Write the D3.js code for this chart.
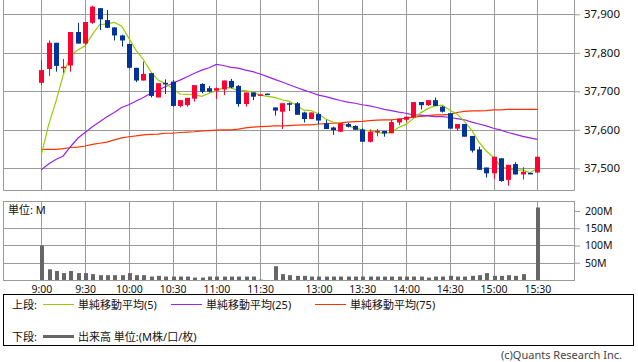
<!DOCTYPE html>
<html>
<head>
<meta charset="utf-8">
<script src="https://cdn.jsdelivr.net/npm/d3@7"></script>
<style>
body { margin: 0; background: #fff; }
text { font-family: "Noto Sans", "Noto Sans CJK JP", sans-serif; fill: #111; }
</style>
</head>
<body>
<svg id="chart" width="638" height="362"></svg>
<script>
// 5-minute slots, slot 12:25 is the lunch-break marker
var times = ["9:00","9:05","9:10","9:15","9:20","9:25","9:30","9:35","9:40","9:45","9:50","9:55",
    "10:00","10:05","10:10","10:15","10:20","10:25","10:30","10:35","10:40","10:45","10:50","10:55",
    "11:00","11:05","11:10","11:15","11:20","11:25","11:30","12:25",
    "12:30","12:35","12:40","12:45","12:50","12:55","13:00","13:05","13:10","13:15","13:20","13:25",
    "13:30","13:35","13:40","13:45","13:50","13:55","14:00","14:05","14:10","14:15","14:20","14:25",
    "14:30","14:35","14:40","14:45","14:50","14:55","15:00","15:05","15:10","15:15","15:20","15:25","15:30"];

var tickTimes = ["9:00","9:30","10:00","10:30","11:00","11:30","13:00","13:30","14:00","14:30","15:00","15:30"];
var priceTicks = [37500, 37600, 37700, 37800, 37900];
var volumeTicks = [50, 100, 150, 200];

var opens = [37722,37758,37826,37763,37767,37854,37824,37878,37916,37885,37866,37845,37823,37761,37728,37747,37684,37722,37725,37662,37664,37681,37719,37708,37702,37705,37727,37714,37667,37697,37691,37694,
    37658,37647,37669,37669,37645,37628,37641,37617,37606,37595,37615,37610,37601,37569,37594,37597,37591,37619,37626,37632,37672,37664,37677,37660,37643,37603,37615,37584,37549,37502,37487,37526,37470,37511,37484,37488,37489];
var highs = [37781,37832,37826,37784,37854,37878,37880,37922,37916,37911,37866,37847,37823,37761,37777,37747,37721,37731,37729,37677,37683,37716,37721,37714,37710,37728,37732,37716,37697,37697,37692,37694,
    37658,37669,37671,37672,37647,37645,37645,37626,37608,37617,37618,37612,37604,37601,37602,37597,37626,37629,37634,37672,37672,37677,37684,37662,37643,37615,37615,37584,37556,37502,37530,37526,37509,37516,37503,37489,37530];
var lows = [37716,37740,37751,37748,37751,37824,37820,37875,37859,37864,37832,37816,37759,37724,37728,37684,37684,37693,37660,37658,37660,37673,37695,37697,37680,37690,37708,37660,37660,37677,37691,37693,
    37637,37602,37649,37639,37619,37628,37615,37602,37587,37595,37606,37600,37569,37567,37583,37582,37591,37612,37620,37630,37653,37662,37662,37645,37603,37597,37582,37541,37496,37476,37472,37465,37455,37484,37471,37486,37489];
var closes = [37755,37826,37766,37764,37854,37824,37880,37920,37887,37865,37845,37832,37761,37728,37745,37688,37721,37719,37662,37677,37683,37716,37699,37699,37708,37728,37710,37667,37697,37686,37692,37693,
    37650,37669,37667,37639,37628,37645,37624,37602,37599,37617,37608,37600,37569,37595,37597,37591,37620,37629,37634,37672,37664,37677,37662,37647,37603,37615,37582,37546,37496,37487,37530,37467,37509,37484,37491,37487,37530];
// volume in millions
var volumes = [100,31,26,20,26,20,20,17,14,14,14,14,20,14,14,10,12,10,10,10,10,7,7,10,10,10,10,10,10,10,1,0,
    40,17,14,12,12,10,10,10,10,10,10,10,10,10,10,10,10,10,10,10,10,7,10,10,12,10,10,12,14,20,12,12,14,12,17,0,210];

var ma5 = [37535,37613,37673,37742,37793,37807,37818,37848,37873,37875,37879,37870,37838,37806,37782,37751,37729,37720,37707,37693,37692,37691,37687,37695,37701,37710,37709,37702,37702,37698,37690,37687,
    37684,37678,37674,37664,37651,37650,37641,37628,37620,37617,37610,37605,37599,37598,37594,37590,37594,37606,37614,37629,37644,37655,37662,37664,37651,37641,37622,37599,37568,37545,37528,37505,37498,37495,37496,37488,37500];
var ma25 = [37496,37511,37523,37532,37556,37578,37593,37608,37621,37634,37645,37658,37665,37675,37684,37695,37703,37712,37721,37729,37738,37747,37755,37761,37770,37767,37762,37760,37755,37751,37745,37738,
    37731,37724,37717,37710,37703,37697,37690,37686,37681,37676,37672,37669,37665,37662,37658,37653,37650,37646,37643,37639,37638,37636,37634,37634,37632,37629,37626,37620,37615,37610,37604,37599,37593,37588,37583,37579,37575];
var ma75 = [37549,37549,37549,37551,37554,37555,37558,37562,37565,37568,37574,37579,37582,37584,37587,37588,37589,37591,37591,37593,37594,37595,37597,37598,37599,37600,37600,37602,37605,37607,37608,37609,
    37610,37610,37611,37612,37613,37613,37615,37616,37617,37618,37620,37621,37622,37624,37625,37626,37626,37628,37630,37633,37635,37637,37639,37639,37640,37645,37648,37649,37649,37650,37652,37652,37653,37653,37653,37653,37653];

var svg = d3.select("#chart");
var left = 3, right = 574, mainBottom = 190, volTop = 201, volBottom = 280;
var gridColor = "#9a9a9a";

var x = d3.scalePoint().domain(times).range([41.3, 537.3]);
var y = d3.scaleLinear().domain([37500, 37900]).range([168.3, 14.3]);
var yv = d3.scaleLinear().domain([0, 150]).range([280, 228.2]);

function px(v) { return Math.round(v) + 0.5; }

// grids
var grid = svg.append("g").attr("stroke", gridColor).attr("stroke-width", 1);
grid.selectAll(".vg").data(tickTimes).enter().append("line")
    .attr("x1", function (d) { return px(x(d)); }).attr("x2", function (d) { return px(x(d)); })
    .attr("y1", 0).attr("y2", mainBottom);
grid.selectAll(".vg2").data(tickTimes).enter().append("line")
    .attr("x1", function (d) { return px(x(d)); }).attr("x2", function (d) { return px(x(d)); })
    .attr("y1", volTop).attr("y2", volBottom);
grid.selectAll(".hg").data(priceTicks).enter().append("line")
    .attr("x1", left).attr("x2", right).attr("y1", function (d) { return px(y(d)); }).attr("y2", function (d) { return px(y(d)); });
grid.selectAll(".hv").data([50, 100, 150]).enter().append("line")
    .attr("x1", left).attr("x2", right).attr("y1", function (d) { return px(yv(d)); }).attr("y2", function (d) { return px(yv(d)); });

// frames
svg.append("path").attr("fill", "none").attr("stroke", gridColor)
    .attr("d", "M" + (left + 0.5) + ",0V" + (mainBottom + 0.5) + "H" + (right + 0.5) + "V0");
svg.append("rect").attr("fill", "none").attr("stroke", gridColor)
    .attr("x", left + 0.5).attr("y", volTop + 0.5).attr("width", right - left).attr("height", volBottom - volTop);

// price axis
var pAxis = svg.append("g").attr("transform", "translate(" + right + ",0)")
    .call(d3.axisRight(y).tickValues(priceTicks).tickSize(6).tickPadding(4).tickFormat(d3.format(",")));
pAxis.select(".domain").remove();
pAxis.selectAll("line").attr("stroke", gridColor);
pAxis.selectAll("text").attr("font-size", "11.5px").attr("fill", "#111");

// volume axis
var vAxis = svg.append("g").attr("transform", "translate(" + right + ",0)")
    .call(d3.axisRight(yv).tickValues(volumeTicks).tickSize(6).tickPadding(5).tickFormat(function (d) { return d + "M"; }));
vAxis.select(".domain").remove();
vAxis.selectAll("line").attr("stroke", gridColor);
vAxis.selectAll("text").attr("font-size", "10.5px").attr("fill", "#111");

// time axis
var tAxis = svg.append("g").attr("transform", "translate(0," + volBottom + ")")
    .call(d3.axisBottom(x).tickValues(tickTimes).tickSize(0).tickPadding(6));
tAxis.select(".domain").remove();
tAxis.selectAll("text").attr("font-size", "10.5px").attr("fill", "#111");

// volume bars
svg.append("g").selectAll("rect").data(times).enter().append("rect")
    .attr("x", function (d) { return Math.round(x(d)) - 1; })
    .attr("width", 4)
    .attr("y", function (d, i) { return yv(volumes[i]); })
    .attr("height", function (d, i) { return yv(0) - yv(volumes[i]); })
    .attr("fill", "#666");

svg.append("text").attr("x", 8).attr("y", 209).attr("dominant-baseline", "central")
    .attr("font-size", "11px").text("単位: M");

// moving averages
var mas = [
    {vals: ma75, color: "#ff3300"},
    {vals: ma25, color: "#9922ee"},
    {vals: ma5, color: "#99cc00"}
];
mas.forEach(function (m) {
    var line = d3.line()
        .x(function (d, i) { return x(times[i]); })
        .y(function (d) { return y(d); });
    svg.append("path").datum(m.vals)
        .attr("fill", "none").attr("stroke", m.color).attr("stroke-width", 1.2)
        .attr("d", line);
});

// candles
var up = "#ff0033", down = "#003399";
var candles = svg.append("g").selectAll("g").data(times).enter().append("g");
candles.append("line")
    .attr("x1", function (d) { return Math.round(x(d)) + 0.5; })
    .attr("x2", function (d) { return Math.round(x(d)) + 0.5; })
    .attr("y1", function (d, i) { return y(highs[i]); })
    .attr("y2", function (d, i) { return y(lows[i]); })
    .attr("stroke", function (d, i) { return closes[i] >= opens[i] ? up : down; });
candles.append("rect")
    .attr("x", function (d) { return Math.round(x(d)) - 2; })
    .attr("width", 5)
    .attr("y", function (d, i) { return y(Math.max(opens[i], closes[i])); })
    .attr("height", function (d, i) { return Math.max(1.5, Math.abs(y(opens[i]) - y(closes[i]))); })
    .attr("fill", function (d, i) { return closes[i] >= opens[i] ? up : down; });

// legend
var legend = svg.append("g");
legend.append("rect").attr("x", 3.5).attr("y", 294.5).attr("width", 630).attr("height", 51)
    .attr("fill", "none").attr("stroke", "#000");
legend.append("text").attr("x", 12).attr("y", 304).attr("dominant-baseline", "central").attr("font-size", "11px").text("上段:");
legend.append("text").attr("x", 12).attr("y", 336).attr("dominant-baseline", "central").attr("font-size", "11px").text("下段:");

var legendItems = [
    {x: 43, color: "#99cc00", label: "単純移動平均(5)"},
    {x: 171, color: "#9922ee", label: "単純移動平均(25)"},
    {x: 315, color: "#ff3300", label: "単純移動平均(75)"}
];
legend.selectAll(".li").data(legendItems).enter().append("line")
    .attr("x1", function (d) { return d.x; }).attr("x2", function (d) { return d.x + 31; })
    .attr("y1", 304.5).attr("y2", 304.5).attr("stroke", function (d) { return d.color; });
legend.selectAll(".lt").data(legendItems).enter().append("text")
    .attr("x", function (d) { return d.x + 35; }).attr("y", 304)
    .attr("dominant-baseline", "central").attr("font-size", "11px")
    .text(function (d) { return d.label; });

legend.append("line").attr("x1", 43).attr("x2", 74).attr("y1", 336.5).attr("y2", 336.5)
    .attr("stroke", "#666").attr("stroke-width", 3);
legend.append("text").attr("x", 78).attr("y", 336).attr("dominant-baseline", "central")
    .attr("font-size", "11px").text("出来高 単位:(M株/口/枚)");

svg.append("text").attr("x", 622).attr("y", 354).attr("text-anchor", "end")
    .attr("dominant-baseline", "central").attr("font-size", "11px").style("fill", "#444")
    .text("(c)Quants Research Inc.");
</script>
</body>
</html>
